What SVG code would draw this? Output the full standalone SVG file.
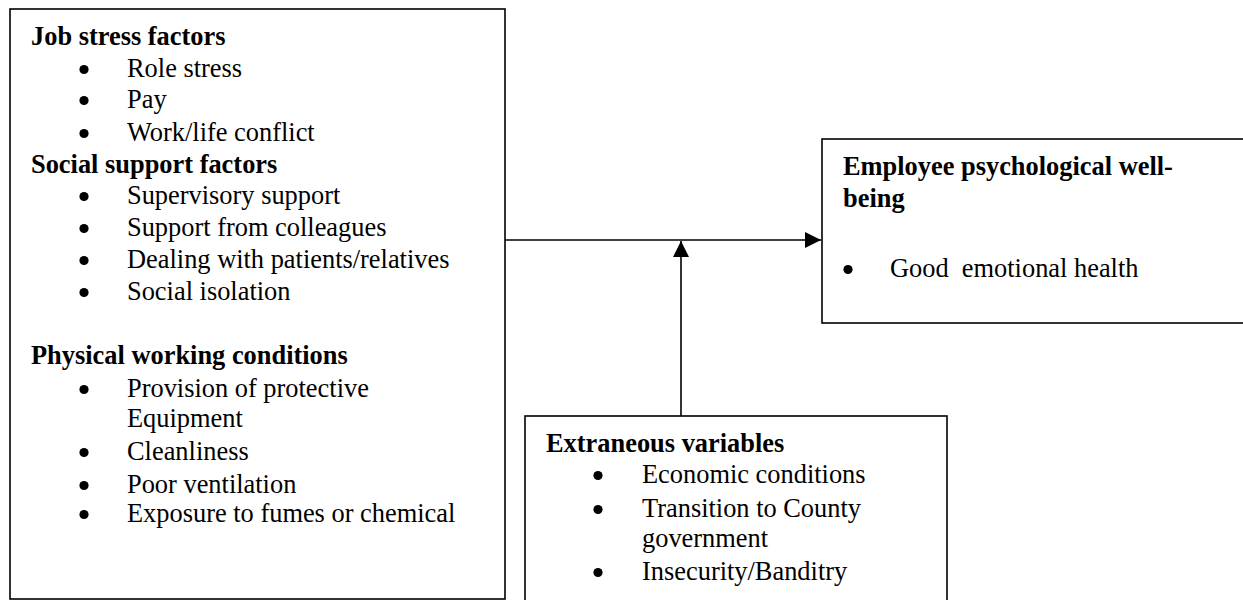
<svg xmlns="http://www.w3.org/2000/svg" width="1243" height="600" viewBox="0 0 1243 600">
<defs>
<style>
.box{fill:#fff;stroke:#000;stroke-width:1.6}
.h{font-family:"Liberation Serif","Times New Roman",serif;font-size:26.4px;font-weight:bold;fill:#000}
.t{font-family:"Liberation Serif","Times New Roman",serif;font-size:26.4px;fill:#000}
.ln{stroke:#000;stroke-width:1.6;fill:none}
</style>
<circle id="dot" r="4.6" fill="#000"/>
<marker id="arr" viewBox="0 0 16 16" refX="16" refY="8" markerWidth="16" markerHeight="16" markerUnits="userSpaceOnUse" orient="auto">
<path d="M0,0 L16,8 L0,16 Z" fill="#000"/>
</marker>
</defs>
<rect width="1243" height="600" fill="#fff"/>

<g id="factors">
<rect class="box" x="10" y="9" width="495" height="590"/>
<text class="h" x="31" y="45">Job stress factors</text>
<use href="#dot" x="84" y="69.5"/><text class="t" x="127" y="77">Role stress</text>
<use href="#dot" x="84" y="100.5"/><text class="t" x="127" y="108">Pay</text>
<use href="#dot" x="84" y="133.5"/><text class="t" x="127" y="141">Work/life conflict</text>
<text class="h" x="31" y="173">Social support factors</text>
<use href="#dot" x="84" y="196.5"/><text class="t" x="127" y="204">Supervisory support</text>
<use href="#dot" x="84" y="228.5"/><text class="t" x="127" y="236">Support from colleagues</text>
<use href="#dot" x="84" y="260.5"/><text class="t" x="127" y="268">Dealing with patients/relatives</text>
<use href="#dot" x="84" y="292.5"/><text class="t" x="127" y="300">Social isolation</text>
<text class="h" x="31" y="364">Physical working conditions</text>
<use href="#dot" x="84" y="389.5"/><text class="t" x="127" y="397">Provision of protective</text>
<text class="t" x="127" y="427">Equipment</text>
<use href="#dot" x="84" y="452.5"/><text class="t" x="127" y="460">Cleanliness</text>
<use href="#dot" x="84" y="485.5"/><text class="t" x="127" y="493">Poor ventilation</text>
<use href="#dot" x="84" y="514.5"/><text class="t" x="127" y="522">Exposure to fumes or chemical</text>
</g>

<g id="wellbeing">
<rect class="box" x="822" y="139" width="430" height="184"/>
<text class="h" x="843" y="175">Employee psychological well-</text>
<text class="h" x="843" y="207">being</text>
<use href="#dot" x="848" y="269.5"/><text class="t" x="890" y="277" xml:space="preserve">Good  emotional health</text>
</g>

<g id="extraneous">
<rect class="box" x="525" y="416" width="422" height="190"/>
<text class="h" x="546" y="452">Extraneous variables</text>
<use href="#dot" x="598" y="475.5"/><text class="t" x="642" y="483">Economic conditions</text>
<use href="#dot" x="598" y="509.5"/><text class="t" x="642" y="517">Transition to County</text>
<text class="t" x="642" y="547">government</text>
<use href="#dot" x="598" y="572.5"/><text class="t" x="642" y="580">Insecurity/Banditry</text>
</g>

<g id="connectors">
<line class="ln" x1="505" y1="240" x2="821" y2="240" marker-end="url(#arr)"/>
<line class="ln" x1="681" y1="416" x2="681" y2="241" marker-end="url(#arr)"/>
</g>
</svg>
